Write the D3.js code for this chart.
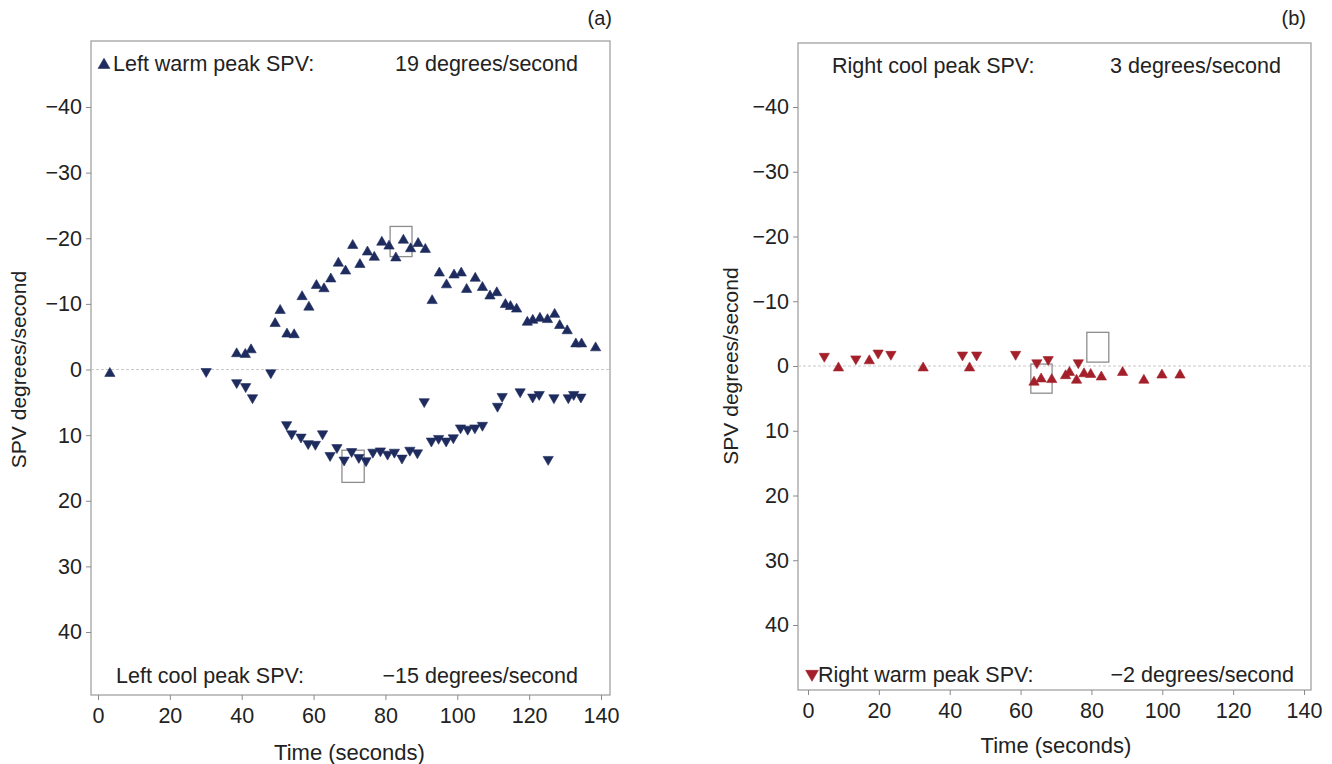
<!DOCTYPE html>
<html><head><meta charset="utf-8">
<script src="https://cdn.jsdelivr.net/npm/d3@7"></script>
<style>
body{margin:0;background:#fff;}
text{font-family:"Liberation Sans",Arial,sans-serif;fill:#222;}
</style></head>
<body><svg id="c" width="1332" height="764"></svg>
<script>
// ---- data (y values as read on the axis) ----
const xTicks = [0,20,40,60,80,100,120,140];
const yTicks = [-40,-30,-20,-10,0,10,20,30,40];

const leftWarmT = [3.3,38.6,41.0,42.6,49.3,50.7,52.6,54.6,56.8,58.7,60.8,62.9,64.8,66.9,68.9,70.9,72.9,75.0,76.9,79.0,81.0,82.9,85.0,87.0,89.1,91.1,93.0,95.0,97.0,99.1,101.1,102.6,105.0,107.0,109.1,111.0,113.4,114.8,116.5,119.5,121.0,123.0,125.1,127.1,128.5,130.6,133.0,134.6,138.5];
const leftWarmV = [0.6,-2.4,-2.3,-3.0,-7.0,-9.0,-5.4,-5.3,-11.1,-9.5,-12.8,-12.3,-13.8,-16.2,-15.0,-18.9,-16.0,-17.9,-17.1,-19.4,-18.8,-17.0,-19.7,-18.4,-19.2,-18.3,-10.5,-14.7,-12.9,-14.4,-14.7,-12.2,-13.9,-12.5,-11.2,-11.7,-9.9,-9.6,-9.2,-7.2,-7.5,-7.8,-7.6,-8.4,-6.7,-5.9,-3.9,-3.9,-3.3];

const leftCoolT = [30.1,38.6,41.1,43.0,48.1,52.5,53.9,56.5,58.5,60.5,62.5,64.6,66.5,68.5,70.6,72.6,74.6,76.5,78.6,80.6,82.5,84.6,86.8,88.9,90.8,92.8,94.8,96.9,98.9,100.9,102.9,104.9,107.0,111.2,112.5,117.5,121.0,122.8,125.3,126.9,130.9,132.4,134.4];
const leftCoolV = [0.3,2.0,2.6,4.3,0.5,8.4,9.8,10.3,11.3,11.4,9.8,13.1,11.9,13.8,12.5,13.4,13.9,12.6,12.4,12.9,12.6,13.5,12.3,12.7,4.9,10.9,10.5,10.9,10.4,8.9,9.1,8.9,8.5,5.6,4.1,3.4,4.2,3.8,13.7,4.3,4.3,3.8,4.2];

const rightWarmT = [4.6,13.5,19.8,23.4,43.6,47.6,58.6,64.6,67.8,76.3];
const rightWarmV = [-1.5,-1.1,-2.0,-1.8,-1.7,-1.7,-1.8,-0.5,-1.0,-0.5];

const rightCoolT = [8.6,17.3,32.5,45.6,63.8,65.8,68.8,72.7,73.8,75.8,77.9,79.8,82.8,88.8,94.8,99.9,105.0];
const rightCoolV = [0.3,-0.8,0.3,0.3,2.5,2.0,2.1,1.5,1.0,2.2,1.2,1.3,1.7,1.0,2.2,1.4,1.4];

// peak boxes [t0,t1,v0,v1]
const leftWarmBox = [81.3,87.4,-21.8,-17.2];
const leftCoolBox = [67.9,74.1,12.3,17.2];
const rightCoolBox = [62.9,68.9,-0.3,4.2];
const rightWarmBox = [78.7,84.9,-5.2,-0.6];

const labels = {
  a: {tag:"(a)", top:"Left warm peak SPV:", topVal:"19 degrees/second", bot:"Left cool peak SPV:", botVal:"\u221215 degrees/second"},
  b: {tag:"(b)", top:"Right cool peak SPV:", topVal:"3 degrees/second", bot:"Right warm peak SPV:", botVal:"\u22122 degrees/second"}
};

const navy = "#1e2b5e", red = "#a3202a";
const svg = d3.select("#c");
const tri = d3.symbol().type(d3.symbolTriangle).size(46);
const fmt = d => d < 0 ? "\u2212" + Math.abs(d) : String(d);

function panel(cfg){
  const g = svg.append("g");
  const x = d3.scaleLinear().domain([0,140]).range(cfg.xr);
  const y = d3.scaleLinear().domain([-40,40]).range(cfg.yr);
  const [L,R,T,B] = cfg.box;
  g.append("rect").attr("x",L).attr("y",T).attr("width",R-L).attr("height",B-T)
    .attr("fill","none").attr("stroke","#9a9a9a").attr("stroke-width",1.2);
  g.append("line").attr("x1",L).attr("x2",R).attr("y1",y(0)).attr("y2",y(0))
    .attr("stroke","#c8c8c8").attr("stroke-width",1).attr("stroke-dasharray","3,2");
  const xa = g.append("g").attr("transform",`translate(0,${B})`)
    .call(d3.axisBottom(x).tickValues(xTicks).tickSize(5).tickPadding(8).tickFormat(fmt));
  const ya = g.append("g").attr("transform",`translate(${L},0)`)
    .call(d3.axisLeft(y).tickValues(yTicks).tickSize(5).tickPadding(4).tickFormat(fmt));
  [xa,ya].forEach(a=>{
    a.select(".domain").remove();
    a.selectAll(".tick line").attr("stroke","#8a8a8a");
    a.selectAll(".tick text").style("font-size","21.5px").attr("fill","#222")
      .style("font-family","'Liberation Sans',Arial,sans-serif");
  });
  cfg.boxes.forEach(bx=>{
    g.append("rect").attr("x",x(bx[0])).attr("y",y(bx[2]))
      .attr("width",x(bx[1])-x(bx[0])).attr("height",y(bx[3])-y(bx[2]))
      .attr("fill","none").attr("stroke","#8d8d8d").attr("stroke-width",1.3);
  });
  cfg.series.forEach(s=>{
    g.selectAll(null).data(d3.range(s.t.length)).enter().append("path")
      .attr("d",tri)
      .attr("transform",i=>`translate(${x(s.t[i])},${y(s.v[i])}) rotate(${s.down?180:0})`)
      .attr("fill",s.color).attr("stroke",s.color).attr("stroke-width",0.6);
  });
  const lb = cfg.lab;
  g.append("text").attr("x",cfg.tagX).attr("y",25).attr("text-anchor","end")
    .style("font-size","20px").text(lb.tag);
  g.append("text").attr("x",(cfg.xr[0]+cfg.xr[1])/2).attr("y",cfg.xtY).attr("text-anchor","middle")
    .style("font-size","22px").text("Time (seconds)");
  g.append("text").attr("transform",`translate(${cfg.ytX},${y(0)}) rotate(-90)`).attr("text-anchor","middle")
    .style("font-size","21px").text("SPV degrees/second");
  const fs = "21.5px";
  g.append("text").attr("x",cfg.topX).attr("y",cfg.topY).style("font-size",fs).text(lb.top);
  g.append("text").attr("x",cfg.topEnd).attr("y",cfg.topY).attr("text-anchor","end").style("font-size",fs).text(lb.topVal);
  g.append("text").attr("x",cfg.botX).attr("y",cfg.botY).style("font-size",fs).text(lb.bot);
  g.append("text").attr("x",cfg.botEnd).attr("y",cfg.botY).attr("text-anchor","end").style("font-size",fs).text(lb.botVal);
  if(cfg.legend){
    const lg = cfg.legend;
    g.append("path").attr("d",d3.symbol().type(d3.symbolTriangle).size(lg.size)())
      .attr("transform",`translate(${lg.x},${lg.y}) rotate(${lg.down?180:0})`)
      .attr("fill",lg.color).attr("stroke",lg.color).attr("stroke-width",0.6);
  }
}

panel({
  xr:[98,601], yr:[107,632], box:[91,610,41,695],
  boxes:[leftWarmBox,leftCoolBox],
  series:[{t:leftWarmT,v:leftWarmV,color:navy,down:false},{t:leftCoolT,v:leftCoolV,color:navy,down:true}],
  lab:labels.a, tagX:612, xtY:760, ytX:26,
  topX:113, topEnd:578, topY:71, botX:116, botEnd:578, botY:683,
  legend:{x:104,y:65,size:60,color:navy,down:false}
});
panel({
  xr:[808,1304], yr:[107,625], box:[798,1311,43,690],
  boxes:[rightCoolBox,rightWarmBox],
  series:[{t:rightWarmT,v:rightWarmV,color:red,down:true},{t:rightCoolT,v:rightCoolV,color:red,down:false}],
  lab:labels.b, tagX:1306, xtY:753, ytX:738,
  topX:832, topEnd:1281, topY:73, botX:818, botEnd:1294, botY:682,
  legend:{x:812,y:674,size:70,color:red,down:true}
});
</script></body></html>
